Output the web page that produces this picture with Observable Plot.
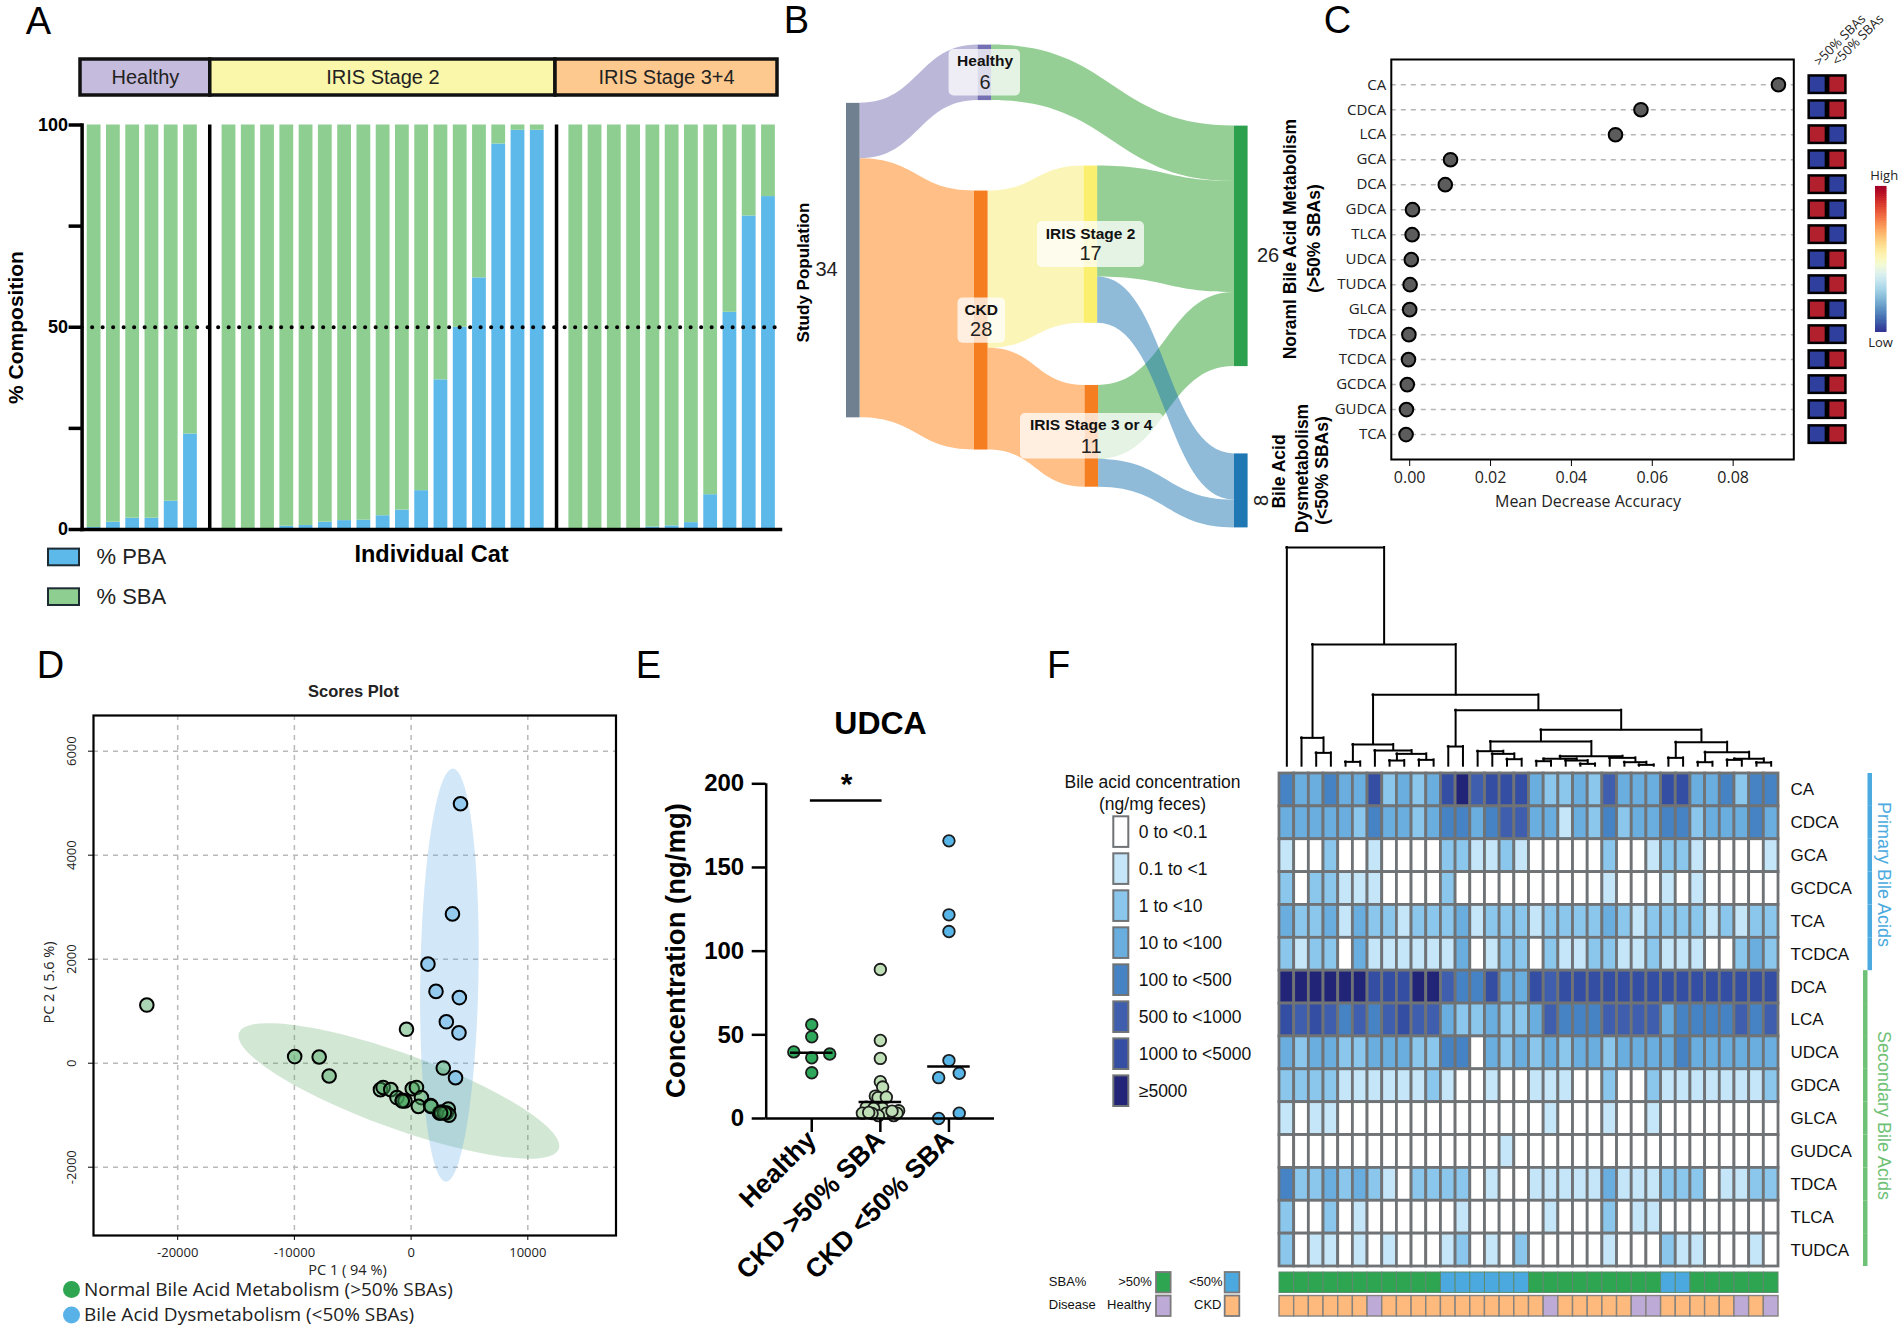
<!DOCTYPE html>
<html><head><meta charset="utf-8">
<script src="https://cdn.jsdelivr.net/npm/d3@7"></script>
<script src="https://cdn.jsdelivr.net/npm/@observablehq/plot@0.6"></script>
<style>html,body{margin:0;padding:0;background:#fff;overflow:hidden}#page{position:relative;width:1901px;height:1329px;overflow:hidden}#page svg{position:absolute;overflow:visible;max-width:none}</style>
</head><body><div id="page"></div>
<script>
const ARIAL='"Liberation Sans",Arial,sans-serif', OPEN='"Open Sans",sans-serif';
// ---------- A
const catSlots=d3.range(36);
const pbaHealthy=[0.5,1.8,2.8,2.8,7,23.6];
const pbaStage2=[0.2,0.2,0.2,0.8,1,1.8,2.2,2.3,3.4,4.8,9.6,37,50,62.2,95.3,98.7,98.7];
const pbaStage34=[0.2,0.2,0.2,0.2,0.6,0.9,1.7,8.6,53.7,77.5,82.3];
const stageNames=["Healthy","IRIS Stage 2","IRIS Stage 3+4"];
const stageBounds=[-0.2,6.54,24.47,36];
const stageColors=["#c5bbdc","#faf6aa","#fdc98f"];
// ---------- B
const sankeyNodes=["Study Population","Healthy","CKD","IRIS Stage 2","IRIS Stage 3 or 4","Noraml Bile Acid Metabolism","Bile Acid Dysmetabolism"];
const sankeyCounts=[34,6,28,17,11,26,8];
const sankeyTop=[6.3,0,15.78,13.08,36.8,8.76,44.2];
const sankeyX=[846,977.5,974,1083.5,1084.5,1234,1234];
const sankeyColors=["#708090","#7570b3","#f57f20","#fbef70","#f57f20","#2ca04c","#1f78b4"];
const linkFrom=[0,0,1,2,2,3,4,3,4];
const linkTo=[1,2,5,3,4,5,5,6,6];
const linkValue=[6,28,6,17,11,12,8,5,3];
const linkColors=["#7570b3","#ff7f0e","#2ca02c","#f7ee70","#ff7f0e","#2ca02c","#2ca02c","#1f78b4","#1f78b4"];
// ---------- C
const vipRows=["CA","CDCA","LCA","GCA","DCA","GDCA","TLCA","UDCA","TUDCA","GLCA","TDCA","TCDCA","GCDCA","GUDCA","TCA"];
const vipValues=[0.0912,0.0572,0.0509,0.0101,0.0088,0.0007,0.0006,0.0004,0.0001,0,-0.0002,-0.0003,-0.0006,-0.0008,-0.0009];
const vipHigh=["L","L","H","L","H","H","H","L","L","H","H","L","L","L","L"]; // level in >50% SBA group
// ---------- D
const pc1Normal=[-22646,-9977,-7877,-7023,-394,2757,-2626,-2396,-1739,-1214,-755,-525,98,459,886,624,1674,2429,2593,3184,3019,3249,1707,2855,-755,2527];
const pc2Normal=[1118,127,119,-246,652,-93,-508,-466,-508,-661,-711,-728,-491,-466,-661,-830,-813,-957,-940,-881,-957,-999,-830,-957,-728,-957];
const pc1Dys=[4234,3545,1444,2133,4135,3019,4103,3807];
const pc2Dys=[4989,2871,1906,1381,1262,796,584,-280];
// ---------- E
const groupNames=["Healthy","CKD >50% SBA","CKD <50% SBA"];
const udcaHealthy=[56,48.8,39.8,38.5,36.3,27.3];
const udcaHealthyDx=[0,0,-0.262,0.262,0,0];
const udcaHigh=[89,46.6,35.9,22,18.8,13.4,12.4,12.7,6.8,6.1,6,4.6,3.2,3.2,1.7,1.7,3.2,3,4.4,3.6];
const udcaHighDx=[0,0,0,0,0.034,-0.073,-0.034,0.087,-0.204,0.03,-0.097,0.267,-0.262,0.087,0.194,-0.029,0.243,-0.121,0.17,-0.17];
const udcaLow=[165.9,121.7,111.7,34.6,24.4,27,3.2,0];
const udcaLowDx=[0,0,0,0,-0.15,0.15,0.15,-0.15];
const udcaMeans=[39.3,9.8,31];
// ---------- F
const heatRows=["CA","CDCA","GCA","GCDCA","TCA","TCDCA","DCA","LCA","UDCA","GDCA","GLCA","GUDCA","TDCA","TLCA","TUDCA"];
const CA=[4,3,3,4,3,3,6,2,3,2,3,6,7,5,6,6,6,3,2,2,3,2,5,3,3,3,6,6,3,3,4,2,4,4];
const CDCA=[3,3,3,3,3,2,4,3,3,2,3,4,4,3,4,5,5,3,3,1,3,2,4,2,3,3,4,4,2,3,3,3,4,3];
const GCA=[1,0,0,2,0,0,1,0,0,0,0,2,2,1,1,2,1,0,0,0,0,0,2,0,0,1,2,2,1,0,0,0,0,1];
const GCDCA=[2,0,2,2,1,1,1,0,0,0,0,2,0,0,0,0,0,0,0,0,0,0,1,0,0,0,1,0,1,0,0,0,0,0];
const TCA=[3,2,2,3,1,3,2,2,1,2,2,2,3,1,2,2,2,1,2,2,2,2,3,2,1,2,2,2,2,1,2,1,2,2];
const TCDCA=[2,1,2,2,0,3,1,1,1,1,1,1,3,0,1,2,2,0,2,1,1,2,2,1,1,2,1,1,1,0,0,2,3,2];
const DCA=[7,7,7,7,7,7,6,6,6,7,7,5,4,4,6,3,3,6,5,6,6,6,6,6,6,6,6,6,6,6,6,6,6,6];
const LCA=[6,5,6,5,4,5,4,5,6,5,5,3,2,2,3,2,2,3,5,4,4,4,5,5,5,5,3,4,4,4,4,5,4,5];
const UDCA=[3,2,3,3,2,2,3,3,3,2,2,4,4,0,3,2,3,2,3,2,3,3,2,3,3,3,3,4,3,3,3,3,3,3];
const GDCA=[2,2,2,2,1,1,1,1,1,1,2,1,0,0,1,0,0,1,1,1,0,0,2,0,0,2,1,1,1,1,1,1,1,2];
const GLCA=[1,0,1,1,0,0,0,0,0,0,0,0,0,0,0,0,0,0,1,0,0,0,1,0,0,1,0,0,0,0,0,0,0,0];
const GUDCA=[0,0,0,0,0,0,0,0,0,0,0,0,0,0,0,1,0,0,0,0,0,0,0,0,0,0,0,0,0,0,0,0,0,0];
const TDCA=[4,2,2,3,2,3,2,1,0,2,2,2,2,0,1,0,0,1,1,1,1,1,3,1,1,1,2,2,2,0,1,1,2,2];
const TLCA=[2,0,0,2,0,1,0,0,0,0,0,0,1,0,0,0,0,0,1,0,0,0,2,0,1,1,0,0,0,0,0,0,0,0];
const TUDCA=[2,0,1,1,0,1,0,1,0,0,0,1,2,0,1,0,2,0,0,0,0,0,1,0,0,0,2,1,1,0,0,0,1,0];
const heatMatrix=[CA,CDCA,GCA,GCDCA,TCA,TCDCA,DCA,LCA,UDCA,GDCA,GLCA,GUDCA,TDCA,TLCA,TUDCA];
const levelNames=["0 to <0.1","0.1 to <1","1 to <10","10 to <100","100 to <500","500 to <1000","1000 to <5000","≥5000"];
const levelColors=["#ffffff","#c5e5f8","#8bc7ec","#6aaee0","#4583c4","#3f5fae","#334ea3","#222478"];
const sbaStrip=[1,1,1,1,1,1,1,1,1,1,1,0,0,0,0,0,0,1,1,1,1,1,1,1,1,1,0,0,1,1,1,1,1,1];
const healthyStrip=[0,0,0,0,0,0,1,0,0,0,0,0,0,0,0,0,0,0,1,0,0,0,0,0,1,1,0,0,0,0,0,1,0,1];
const dendro=[656,0,[365,[85,1,[40,2,3]],[214,[65,[13,4,5],[47,6,[37,[17,7,8],[19,9,10]]]],[168,[59,11,12],[109,[74,[45,13,[37,14,[21,15,16]]],[30,[22,[15,17,18],[17,19,[7,20,21]]],[25,22,[12,23,[4,24,25]]]]],[72,[25,26,27],[42,[12,28,29],[22,[19,30,31],[11,32,33]]]]]]]]];
const GREEN="#2ea550",BLUE="#4ba9e0",PURPLE="#bdaad6",ORANGE="#fdba7c",CELLGRAY="#6f7376";

// ---------- helpers
const page=document.getElementById("page");
function panel(b,o){
  const [x0,y0,x1,y1]=b.box,[l,t,r,bm]=b.inner;
  const svg=Plot.plot({width:x1-x0,height:y1-y0,marginLeft:l-x0,marginRight:x1-r,marginTop:t-y0,marginBottom:y1-bm,
    style:{background:"transparent",overflow:"visible",fontFamily:ARIAL,fontSize:"14px",color:"#000"},...o});
  svg.style.left=x0+"px";svg.style.top=y0+"px";page.appendChild(svg);return svg;
}
function labeler(b){ const [l,t]=b.inner; return (s,px,py,o={})=>Plot.text([s],{text:d=>d,frameAnchor:"top-left",dx:px-l,dy:py-t,textAnchor:"middle",lineAnchor:"middle",fontFamily:ARIAL,...o}); }
const locX=(b,a)=>a.map(v=>v-b.box[0]), locY=(b,a)=>a.map(v=>v-b.box[1]);
const Letter=(L,s,px,py)=>L(s,px,py,{fontSize:38});

// ---------- Panel A
(function(){
  const bh={box:[60,50,790,105],inner:[80,59,777,95]}, Lh=labeler(bh);
  const rows=stageNames.map((n,i)=>({n,a:stageBounds[i],b:stageBounds[i+1],c:stageColors[i]}));
  panel(bh,{x:{domain:[stageBounds[0],stageBounds[3]],axis:null},y:{axis:null},marks:[
    Plot.rect(rows,{x1:"a",x2:"b",fill:"c",stroke:"#111",strokeWidth:3.5}),
    Plot.text(rows,{x:d=>(d.a+d.b)/2,frameAnchor:"middle",text:"n",fontSize:20,fill:"#222",fontFamily:ARIAL})]});
  const b={box:[0,0,790,620],inner:[81.6,124.5,780,529]}, L=labeler(b);
  const series=[];
  const vals=[...pbaHealthy,null,...pbaStage2,null,...pbaStage34];
  vals.forEach((v,i)=>{ if(v==null)return; series.push({slot:i,s:"% PBA",v}); });
  vals.forEach((v,i)=>{ if(v==null)return; series.push({slot:i,s:"% SBA",v:100-v}); });
  panel(b,{x:{type:"band",round:false,domain:catSlots,range:locX(b,[84,777.6]),paddingInner:0.284,paddingOuter:0.142,axis:null},
    y:{domain:[0,100]},color:{domain:["% PBA","% SBA"],range:["#5cb9e9","#8fce91"]},marks:[
    Plot.barY(series,{x:"slot",y:"v",fill:"s"}),
    Plot.ruleX([6,24],{x:d=>d,y1:0,y2:100,strokeWidth:3.5,stroke:"#000"}),
    Plot.ruleY([50],{stroke:"#000",strokeWidth:4,strokeDasharray:"0.1,10.4",strokeLinecap:"round"}),
    Plot.axisY({ticks:[0,25,50,75,100],tickFormat:d=>d%50==0?String(d):"",tickSize:13,tickPadding:1,strokeWidth:3.5,fontWeight:"bold",fontSize:18,label:null,fill:"#000"}),
    Plot.frame({anchor:"left",stroke:"#000",strokeWidth:3.5}),
    Plot.frame({anchor:"bottom",stroke:"#000",strokeWidth:3.5}),
    Letter(L,"A",38,21),
    L("% Composition",16,327,{rotate:-90,fontWeight:"bold",fontSize:21}),
    L("Individual Cat",431,554,{fontWeight:"bold",fontSize:23.5})]});
  const bl={box:[30,530,220,625],inner:[48,537.1,79,616.5]};
  panel(bl,{x:{axis:null,round:false},y:{domain:["% PBA","% SBA"],round:false,paddingInner:0.58,paddingOuter:0.29,axis:null},
    color:{domain:["% PBA","% SBA"],range:["#5cb9e9","#8fce91"]},marks:[
    Plot.cell(["% PBA","% SBA"],{y:d=>d,fill:d=>d,stroke:"#1d2b33",strokeWidth:2}),
    Plot.axisY({anchor:"right",tickSize:0,tickPadding:17,fontSize:22,label:null,fill:"#222"})]});
})();

// ---------- Panel B
(function(){
  const b={box:[780,0,1335,560],inner:[846,44.6,1248,527.4]}, L=labeler(b);
  const unit=(527.4-44.6)/52.2, cat=p=>(p-44.6)/unit;
  const nodeW=13.6;
  const nodes=sankeyNodes.map((n,i)=>({n,x1:sankeyX[i],x2:sankeyX[i]+nodeW,y1:sankeyTop[i],y2:sankeyTop[i]+sankeyCounts[i],c:sankeyColors[i]}));
  const outUsed=sankeyNodes.map(()=>0), inUsed=sankeyNodes.map(()=>0), pts=[];
  linkFrom.forEach((f,k)=>{
    const t=linkTo[k],v=linkValue[k];
    const s0=sankeyTop[f]+outUsed[f], d0=sankeyTop[t]+inUsed[t];
    outUsed[f]+=v; inUsed[t]+=v;
    pts.push({id:k,x:sankeyX[f]+nodeW,y1:s0,y2:s0+v,c:linkColors[k]});
    pts.push({id:k,x:sankeyX[t],y1:d0,y2:d0+v,c:linkColors[k]});
  });
  const boxes=[[948.6,1020,49,95.4],[957.5,1005,297.5,342.8],[1037,1144,221,267],[1020,1163,413,458.6]];
  const big={fontSize:20,fill:"#222"};
  const head={fontSize:15.5,fontWeight:"bold",fill:"#111"};
  panel(b,{x:{domain:[846,1248],axis:null},y:{domain:[0,52.2],range:locY(b,[44.6,527.4]),axis:null},marks:[
    Plot.area(pts,{x1:"x",y1:"y1",y2:"y2",z:"id",fill:"c",fillOpacity:0.5,curve:"bump-x"}),
    Plot.rect(nodes,{x1:"x1",x2:"x2",y1:"y1",y2:"y2",fill:"c"}),
    Plot.rect(boxes,{x1:d=>d[0],x2:d=>d[1],y1:d=>cat(d[2]),y2:d=>cat(d[3]),fill:"#fff",fillOpacity:0.75,rx:5}),
    Letter(L,"B",796,20),
    L("Study Population",803,272,{rotate:-90,fontWeight:"bold",fontSize:17}),
    L("34",826,269,big),
    L("Healthy",984.6,61,head),L("6",984.6,82,big),
    L("CKD",980.7,309.5,head),L("28",980.7,329,big),
    L("IRIS Stage 2",1090,233.7,head),L("17",1090,253,big),
    L("IRIS Stage 3 or 4",1090.7,425,head),L("11",1090.7,445.6,big),
    L("26",1267.5,255,big),L("8",1261,500,{...big,rotate:-90}),
    L("Noraml Bile Acid Metabolism",1290,238.6,{rotate:-90,fontWeight:"bold",fontSize:17.5}),
    L("(>50% SBAs)",1314,238,{rotate:-90,fontWeight:"bold",fontSize:17.5}),
    L("Bile Acid",1279,471,{rotate:-90,fontWeight:"bold",fontSize:17.5}),
    L("Dysmetabolism",1301.4,468,{rotate:-90,fontWeight:"bold",fontSize:17.5}),
    L("(<50% SBAs)",1322,470,{rotate:-90,fontWeight:"bold",fontSize:17.5})]});
})();

// ---------- Panel C
(function(){
  const b={box:[1325,0,1800,530],inner:[1390.8,59,1793.3,459]}, L=labeler(b);
  const rows=vipRows.map((r,i)=>({r,v:vipValues[i]}));
  panel(b,{x:{domain:[-0.00455,0.095]},y:{type:"point",round:false,padding:0,domain:vipRows,range:locY(b,[84.2,434.1])},marks:[
    Plot.ruleY(vipRows,{y:d=>d,stroke:"#b5b5b5",strokeWidth:1.5,strokeDasharray:"5,5"}),
    Plot.frame({stroke:"#000",strokeWidth:2}),
    Plot.dot(rows,{x:"v",y:"r",r:6.8,fill:"#5c5c5c",stroke:"#000",strokeWidth:2}),
    Plot.axisX({ticks:[0,0.02,0.04,0.06,0.08],tickFormat:d=>d.toFixed(2),tickSize:7,tickPadding:5,fontSize:16,fontFamily:OPEN,label:null,fill:"#222"}),
    Plot.axisY({tickSize:0,tickPadding:5,fontSize:15,fontFamily:OPEN,label:null,fill:"#222"}),
    Letter(L,"C",1337,20),
    L("Mean Decrease Accuracy",1587.5,501,{fontSize:16,fontFamily:OPEN,fill:"#222"})]});
  const c2={box:[1800,0,1862,460],inner:[1807.7,71.7,1846.4,446.6]}, L2=labeler(c2);
  const cols=[">50% SBAs","<50% SBAs"];
  const cells=[];
  vipRows.forEach((r,i)=>{cells.push({r,c:cols[0],v:vipHigh[i]});cells.push({r,c:cols[1],v:vipHigh[i]=="H"?"L":"H"});});
  panel(c2,{x:{domain:cols,round:false,axis:null,paddingInner:0.115,paddingOuter:0.05},y:{domain:vipRows,round:false,axis:null,paddingInner:0.3,paddingOuter:0.15},
    color:{domain:["L","H"],range:["#2e3f9e","#b2202e"]},marks:[
    Plot.cell(cells,{x:"c",y:"r",fill:"v",stroke:"#000",strokeWidth:2.5}),
    L2(">50% SBAs",1816,63,{rotate:-45,textAnchor:"start",fontSize:13,fontFamily:OPEN,fill:"#222"}),
    L2("<50% SBAs",1834,63,{rotate:-45,textAnchor:"start",fontSize:13,fontFamily:OPEN,fill:"#222"})]});
  const g={box:[1862,160,1901,350],inner:[1875,186.6,1886.5,332]}, L3=labeler(g);
  const n=64,grad=d3.range(n).map(i=>({a:i/n,b:(i+1.3)/n,v:i/(n-1)}));
  panel(g,{x:{axis:null},y:{domain:[0,1],axis:null},color:{type:"linear",scheme:"RdYlBu",reverse:true,domain:[0,1]},marks:[
    Plot.rect(grad,{y1:"a",y2:"b",fill:"v"}),
    L3("High",1883.7,175,{fontSize:13,fontFamily:OPEN,fill:"#222"}),
    L3("Low",1880,342,{fontSize:13,fontFamily:OPEN,fill:"#222"})]});
})();

// ---------- Panel D
(function(){
  const b={box:[0,640,630,1329],inner:[93,715,615.5,1235]}, L=labeler(b);
  const ell=(cx,cy,ax,ay,bx,by)=>d3.range(0,73).map(i=>{const t=i/72*2*Math.PI,c=Math.cos(t),s=Math.sin(t);return {x:cx+c*ax+s*bx,y:cy+c*ay+s*by};});
  const G=pc1Normal.map((x,i)=>({x,y:pc2Normal[i]})), D=pc1Dys.map((x,i)=>({x,y:pc2Dys[i]}));
  const xt=[-20000,-10000,0,10000], yt=[-2000,0,2000,4000,6000];
  const gr={stroke:"#b9b9b9",strokeWidth:1.5,strokeDasharray:"5,5",strokeOpacity:1};
  panel(b,{x:{domain:[-27215,17558]},y:{domain:[-3313,6686]},marks:[
    Plot.gridX({ticks:xt,...gr}),Plot.gridY({ticks:yt,...gr}),
    Plot.line(ell(-1050,-533,13750,-1058,0,762),{x:"x",y:"y",fill:"#4f9f58",fillOpacity:0.25,stroke:"none"}),
    Plot.line(ell(3282,1694,295,3973,2494,0),{x:"x",y:"y",fill:"#5aa5e6",fillOpacity:0.27,stroke:"none"}),
    Plot.frame({stroke:"#000",strokeWidth:2.2}),
    Plot.axisX({ticks:xt,tickFormat:String,tickSize:5,tickPadding:7,fontSize:13,fontFamily:OPEN,label:null,fill:"#222"}),
    Plot.axisY({ticks:yt,tickFormat:String,tickSize:5,tickPadding:13,tickRotate:-90,fontSize:13,fontFamily:OPEN,label:null,fill:"#222"}),
    Plot.dot(G,{x:"x",y:"y",r:6.8,fill:"#44a55a",fillOpacity:0.45,stroke:"#000",strokeWidth:2}),
    Plot.dot(D,{x:"x",y:"y",r:6.8,fill:"#7fc0ea",fillOpacity:0.75,stroke:"#000",strokeWidth:2}),
    Letter(L,"D",50,665),
    L("Scores Plot",353,691,{fontWeight:"bold",fontSize:16.5,fill:"#222"}),
    L("PC 1 ( 94 %)",347,1269.6,{fontSize:14.5,fontFamily:OPEN,fill:"#222"}),
    L("PC 2 ( 5.6 %)",49,982,{rotate:-90,fontSize:14.5,fontFamily:OPEN,fill:"#222"}),
    Plot.dot([0],{frameAnchor:"top-left",dx:71-93,dy:1289-715,r:8.5,fill:GREEN}),
    Plot.dot([0],{frameAnchor:"top-left",dx:71-93,dy:1314.4-715,r:8.5,fill:"#58b2e8"}),
    L("Normal Bile Acid Metabolism (>50% SBAs)",83.4,1289,{textAnchor:"start",fontSize:19,fontFamily:OPEN,fill:"#222"}),
    L("Bile Acid Dysmetabolism (<50% SBAs)",83.4,1314.4,{textAnchor:"start",fontSize:19,fontFamily:OPEN,fill:"#222"})]});
})();

// ---------- Panel E
(function(){
  const b={box:[640,680,1010,1329],inner:[765.7,783.3,994,1118]}, L=labeler(b);
  const mk=(vals,dx,g)=>vals.map((v,i)=>({x:g+dx[i],v}));
  const dotStyle={r:5.8,stroke:"#1c1c1c",strokeWidth:1.8};
  panel(b,{x:{domain:[-0.664,2.664]},y:{domain:[0,200]},marks:[
    Plot.dot(mk(udcaHealthy,udcaHealthyDx,0),{x:"x",y:"v",fill:"#2ea85a",...dotStyle}),
    Plot.dot(mk(udcaHigh,udcaHighDx,1),{x:"x",y:"v",fill:"#bfe0b7",...dotStyle}),
    Plot.dot(mk(udcaLow,udcaLowDx,2),{x:"x",y:"v",fill:"#58b5e8",...dotStyle}),
    Plot.ruleY(udcaMeans,{y:d=>d,x1:(d,i)=>i-0.31,x2:(d,i)=>i+0.31,stroke:"#000",strokeWidth:2.5}),
    Plot.ruleY([190],{x1:-0.02,x2:1.025,stroke:"#000",strokeWidth:2.5}),
    Plot.ruleX([-0.664],{y1:0,y2:200,stroke:"#000",strokeWidth:2.5}),
    Plot.ruleY([0],{x1:-0.664,x2:2.664,stroke:"#000",strokeWidth:2.5}),
    Plot.axisY({ticks:[0,50,100,150,200],tickFormat:String,tickSize:14,tickPadding:8,strokeWidth:2.5,fontSize:24,fontWeight:"bold",label:null,fill:"#000"}),
    Plot.axisX({ticks:[0,1,2],tickFormat:d=>groupNames[d],tickSize:14,tickPadding:3,tickRotate:-45,strokeWidth:2.5,fontSize:26.5,fontWeight:"bold",label:null,fill:"#000"}),
    Letter(L,"E",648,665),
    L("UDCA",880,723.7,{fontWeight:"bold",fontSize:32}),
    L("*",846,784,{fontWeight:"bold",fontSize:30}),
    L("Concentration (ng/mg)",676,950,{rotate:-90,fontWeight:"bold",fontSize:27.5})]});
})();

// ---------- Panel F
(function(){
  // dendrogram
  const d={box:[1040,540,1790,770],inner:[1279,547,1778,765.7]}, Ld=labeler(d);
  const H=[],V=[];
  const walk=n=>{ if(typeof n==="number")return {x:n+0.5,h:0};
    const a=walk(n[1]),c=walk(n[2]);
    H.push({y:n[0],x1:a.x,x2:c.x});
    V.push({x:a.x,y1:a.h,y2:n[0]});V.push({x:c.x,y1:c.h,y2:n[0]});
    return {x:(a.x+c.x)/2,h:n[0]}; };
  walk(dendro);
  panel(d,{x:{domain:[0,34],axis:null},y:{domain:[0,656],axis:null},marks:[
    Plot.ruleX(V,{x:"x",y1:"y1",y2:"y2",stroke:"#000",strokeWidth:2,strokeLinecap:"square"}),
    Plot.ruleY(H,{y:"y",x1:"x1",x2:"x2",stroke:"#000",strokeWidth:2,strokeLinecap:"square"}),
    Letter(Ld,"F",1058,665)]});
  // heatmap
  const h={box:[1270,770,1860,1268],inner:[1279,773,1778,1266]};
  const cells=[];
  heatRows.forEach((r,i)=>heatMatrix[i].forEach((v,c)=>cells.push({r,c,v})));
  panel(h,{x:{type:"band",round:false,domain:d3.range(34),padding:0,axis:null},y:{type:"band",round:false,domain:heatRows,padding:0},
    color:{type:"ordinal",domain:d3.range(8),range:levelColors},marks:[
    Plot.cell(cells,{x:"c",y:"r",fill:"v",stroke:CELLGRAY,strokeWidth:2.8}),
    Plot.axisY({anchor:"right",tickSize:0,tickPadding:12,fontSize:17,label:null,fill:"#111"})]});
  // group bars
  const g={box:[1860,770,1901,1268],inner:[1863,773,1872,1266]}, Lg=labeler(g);
  const grp=heatRows.map((r,i)=>({r,g:i<6?"Primary":"Secondary"}));
  panel(g,{x:{domain:["Secondary","Primary"],round:false,padding:0,axis:null},y:{domain:heatRows,round:false,padding:0,axis:null},
    color:{domain:["Primary","Secondary"],range:["#4baae0","#6fc175"]},marks:[
    Plot.cell(grp,{x:"g",y:"r",fill:"g"}),
    Lg("Primary Bile Acids",1883,874,{rotate:90,fontSize:18,fill:"#4baae0"}),
    Lg("Secondary Bile Acids",1883,1115,{rotate:90,fontSize:18,fill:"#6fc175"})]});
  // annotation strips
  const a={box:[1270,1268,1790,1320],inner:[1279,1272,1778,1316]};
  const st=[];
  d3.range(34).forEach(c=>{st.push({row:"SBA%",c,k:sbaStrip[c]?">50%":"<50%"});st.push({row:"Disease",c,k:healthyStrip[c]?"Healthy":"CKD"});});
  const annoColor={domain:[">50%","<50%","Healthy","CKD"],range:[GREEN,BLUE,PURPLE,ORANGE]};
  panel(a,{x:{type:"band",round:false,domain:d3.range(34),padding:0,axis:null},y:{domain:["SBA%","Disease"],round:false,paddingInner:0.13,paddingOuter:0,axis:null},color:annoColor,marks:[
    Plot.cell(st.filter(d=>d.row=="SBA%"),{x:"c",y:"row",fill:"k",stroke:"#5f8a6f",strokeWidth:1}),
    Plot.cell(st.filter(d=>d.row=="Disease"),{x:"c",y:"row",fill:"k",stroke:"#85827f",strokeWidth:1.4})]});
  // level legend
  const l={box:[1040,770,1270,1120],inner:[1113.3,816.3,1128.3,1106]}, Ll=labeler(l);
  panel(l,{x:{axis:null,round:false},y:{domain:levelNames,round:false,paddingInner:0.173,paddingOuter:0},color:{type:"ordinal",domain:levelNames,range:levelColors},marks:[
    Plot.cell(levelNames,{y:d=>d,fill:d=>d,stroke:CELLGRAY,strokeWidth:2}),
    Plot.axisY({anchor:"right",tickSize:0,tickPadding:10,fontSize:17.5,label:null,fill:"#111"}),
    Ll("Bile acid concentration",1152,781.5,{fontSize:17.5,fill:"#111"}),
    Ll("(ng/mg feces)",1152,803.6,{fontSize:17.5,fill:"#111"})]});
  // strip legend
  const s={box:[1040,1262,1270,1326],inner:[1156,1272,1239.3,1316]}, Ls=labeler(s);
  const items=[{row:"SBA%",col:"a",k:">50%"},{row:"SBA%",col:"b",k:"<50%"},{row:"Disease",col:"a",k:"Healthy"},{row:"Disease",col:"b",k:"CKD"}];
  panel(s,{x:{domain:["a","b"],round:false,paddingInner:0.787,paddingOuter:0,axis:null},y:{domain:["SBA%","Disease"],round:false,paddingInner:0.13,paddingOuter:0,axis:null},color:annoColor,marks:[
    Plot.cell(items,{x:"col",y:"row",fill:"k",stroke:"#7a7a7a",strokeWidth:1.8}),
    Ls("SBA%",1048.3,1281.8,{textAnchor:"start",fontSize:13,fill:"#111"}),
    Ls("Disease",1048.3,1304,{textAnchor:"start",fontSize:13,fill:"#111"}),
    Ls(">50%",1151.3,1281.8,{textAnchor:"end",fontSize:13,fill:"#111"}),
    Ls("<50%",1222,1281.8,{textAnchor:"end",fontSize:13,fill:"#111"}),
    Ls("Healthy",1150.7,1304,{textAnchor:"end",fontSize:13,fill:"#111"}),
    Ls("CKD",1221,1304,{textAnchor:"end",fontSize:13,fill:"#111"})]});
})();
</script></body></html>
